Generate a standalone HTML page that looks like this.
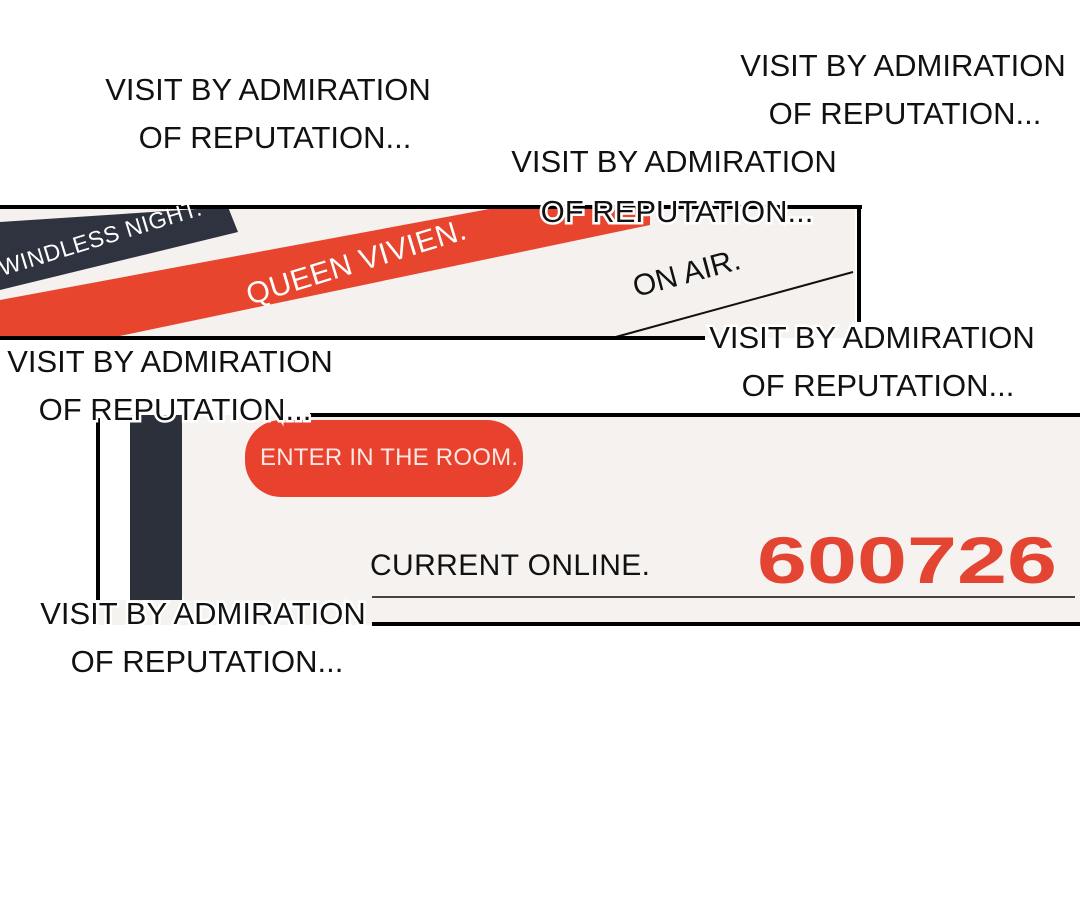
<!DOCTYPE html>
<html><head><meta charset="utf-8"><style>
html,body{margin:0;padding:0;background:#fff;}
svg{display:block}
text{font-family:"Liberation Sans",sans-serif;}
</style></head><body>
<svg width="1080" height="900" viewBox="0 0 1080 900" xmlns="http://www.w3.org/2000/svg">
<rect width="1080" height="900" fill="#fff"/>
<!-- panel 1 -->
<rect x="0" y="207" width="855" height="131" fill="#f4f1ee"/>
<polygon points="0,222 228,207 238,232 0,290" fill="#2f3340"/>
<polygon points="0,300 500,207 650,207 650,225 110,338 0,338" fill="#e8452f"/>
<line x1="612" y1="338" x2="853" y2="272" stroke="#111" stroke-width="2"/>
<line x1="0" y1="207" x2="862" y2="207" stroke="#000" stroke-width="4"/>
<line x1="859" y1="207" x2="859" y2="322" stroke="#000" stroke-width="4"/>
<line x1="0" y1="338" x2="705" y2="338" stroke="#000" stroke-width="4"/>
<text transform="translate(2,276) rotate(-17)" font-size="23" fill="#fff" textLength="210">WINDLESS NIGHT.</text>
<text transform="translate(250,305) rotate(-17)" font-size="30" fill="#fff" textLength="228">QUEEN VIVIEN.</text>
<text transform="translate(636,297) rotate(-15)" font-size="30" fill="#111">ON AIR.</text>
<!-- panel 2 -->
<rect x="97" y="415" width="983" height="210" fill="#f5f2ef"/>
<rect x="0" y="415" width="97" height="210" fill="#fff"/>
<rect x="97" y="415" width="33" height="185" fill="#fff"/>
<rect x="130" y="415" width="52" height="185" fill="#2c303b"/>
<line x1="98" y1="418" x2="98" y2="600" stroke="#000" stroke-width="4"/>
<line x1="310" y1="415" x2="1080" y2="415" stroke="#000" stroke-width="4"/>
<rect x="245" y="420" width="278" height="77" rx="36" fill="#e8422e"/>
<text x="260" y="465" font-size="24" fill="#fbe8e2" textLength="258">ENTER IN THE ROOM.</text>
<text x="370" y="575" font-size="30" fill="#111" textLength="280">CURRENT ONLINE.</text>
<text x="757" y="583" font-size="66" font-weight="bold" fill="#e34532" textLength="300" lengthAdjust="spacingAndGlyphs">600726</text>
<line x1="372" y1="597" x2="1075" y2="597" stroke="#444" stroke-width="2"/>
<line x1="372" y1="624" x2="1080" y2="624" stroke="#000" stroke-width="4"/>
<!-- captions -->
<g font-size="31" fill="#111" text-anchor="middle">
<text x="268" y="100">VISIT BY ADMIRATION</text>
<text x="275" y="148">OF REPUTATION...</text>
<text x="903" y="76">VISIT BY ADMIRATION</text>
<text x="905" y="124">OF REPUTATION...</text>
<text x="674" y="172">VISIT BY ADMIRATION</text>
<text x="677" y="222" stroke="#fff" stroke-width="5" paint-order="stroke">OF REPUTATION...</text>
<text x="170" y="372">VISIT BY ADMIRATION</text>
<text x="175" y="420" stroke="#fff" stroke-width="5" paint-order="stroke">OF REPUTATION...</text>
<text x="872" y="348" stroke="#fff" stroke-width="5" paint-order="stroke">VISIT BY ADMIRATION</text>
<text x="878" y="396">OF REPUTATION...</text>
<text x="203" y="624" stroke="#fff" stroke-width="5" paint-order="stroke">VISIT BY ADMIRATION</text>
<text x="207" y="672">OF REPUTATION...</text>
</g>
</svg>
</body></html>
